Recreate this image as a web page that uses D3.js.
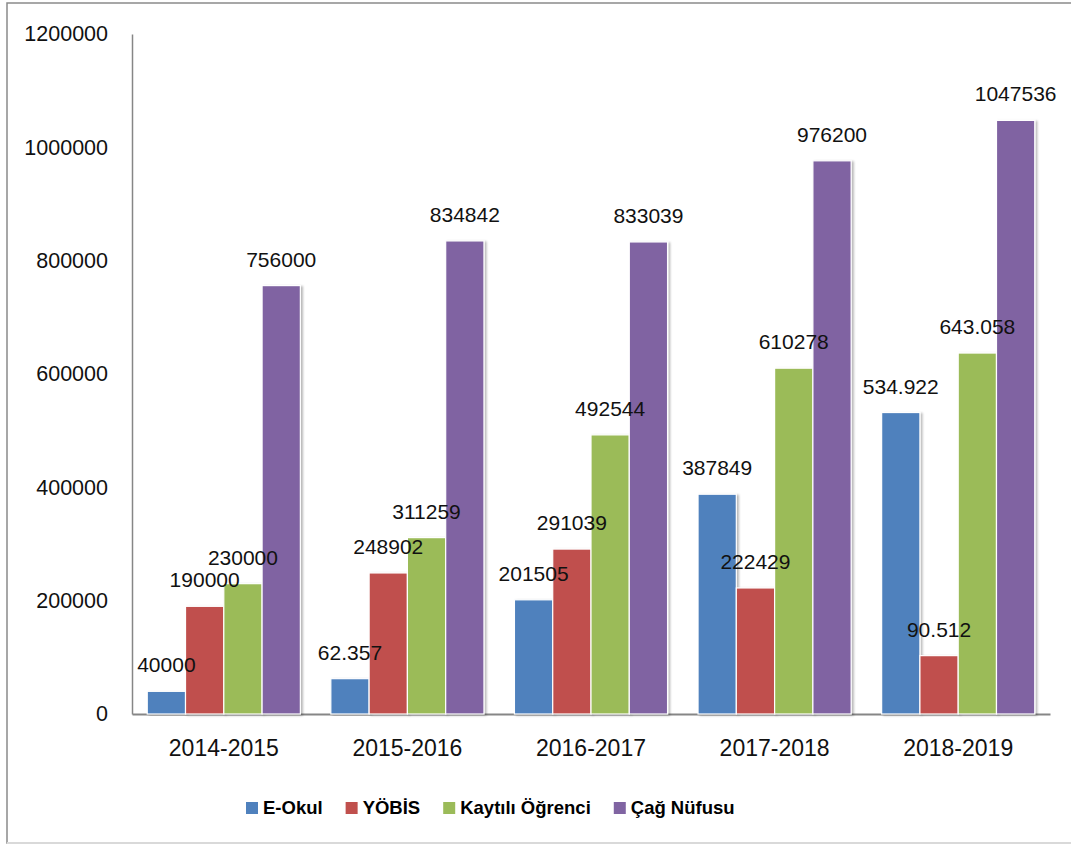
<!DOCTYPE html>
<html>
<head>
<meta charset="utf-8">
<script src="https://cdn.jsdelivr.net/npm/d3@7"></script>
<style>
  html, body { margin: 0; padding: 0; background: #fff; }
  svg { display: block; }
</style>
</head>
<body>
<svg id="chart" width="1071" height="845"></svg>
<script>
const categories = ["2014-2015", "2015-2016", "2016-2017", "2017-2018", "2018-2019"];
const seriesNames = ["E-Okul", "YÖBİS", "Kaytılı Öğrenci", "Çağ Nüfusu"];
const eOkul   = [40000, 62357, 201505, 387849, 532000];
const yobis   = [190000, 248902, 291039, 222429, 103000];
const kayitli = [230000, 311259, 492544, 610278, 637000];
const cag     = [756000, 834842, 833039, 976200, 1047536];
const eOkulLabels   = ["40000", "62.357", "201505", "387849", "534.922"];
const yobisLabels   = ["190000", "248902", "291039", "222429", "90.512"];
const kayitliLabels = ["230000", "311259", "492544", "610278", "643.058"];
const cagLabels     = ["756000", "834842", "833039", "976200", "1047536"];
const yTicks = [0, 200000, 400000, 600000, 800000, 1000000, 1200000];
const colors = ["#4F81BD", "#C0504D", "#9BBB59", "#8064A2"];

const seriesValues = [eOkul, yobis, kayitli, cag];
const seriesLabels = [eOkulLabels, yobisLabels, kayitliLabels, cagLabels];

const svg = d3.select("#chart");
const font = "'Liberation Sans', Arial, sans-serif";

// outer frame
svg.append("rect").attr("x", 7).attr("y", 3).attr("width", 1080).attr("height", 840)
  .attr("fill", "none").attr("stroke", "#8a8a8a").attr("stroke-width", 1.5);
svg.append("line").attr("x1", 7).attr("x2", 1071).attr("y1", 843).attr("y2", 843)
  .attr("stroke", "#d9d9d9").attr("stroke-width", 2);

const defs = svg.append("defs");
const f = defs.append("filter").attr("id", "shadow").attr("x", "-20%").attr("y", "-5%").attr("width", "150%").attr("height", "110%");
f.append("feDropShadow").attr("dx", 2).attr("dy", 1).attr("stdDeviation", 1.2)
  .attr("flood-color", "#000").attr("flood-opacity", 0.28);

const plotLeft = 132, plotRight = 1050, plotTop = 34, plotBottom = 714;

const y = d3.scaleLinear().domain([0, 1200000]).range([plotBottom, plotTop]);
const x0 = d3.scaleBand().domain(categories).range([plotLeft, plotRight]).paddingInner(0).paddingOuter(0);
const x1 = d3.scaleBand().domain(seriesNames)
  .range([x0.bandwidth() * 0.083, x0.bandwidth() * 0.917]).padding(0);

// y axis
const yAxis = svg.append("g").attr("transform", `translate(${plotLeft},0)`)
  .call(d3.axisLeft(y).tickValues(yTicks).tickFormat(d3.format("d")).tickSize(0).tickPadding(24));
yAxis.select(".domain").attr("stroke", "#868686").attr("stroke-width", 1.5);
yAxis.selectAll("text").attr("font-family", font).attr("font-size", 21.5).attr("fill", "#111");

// x axis
const xAxis = svg.append("g").attr("transform", `translate(0,${plotBottom})`)
  .call(d3.axisBottom(x0).tickSize(0).tickSizeOuter(0));
xAxis.select(".domain").attr("stroke", "#868686").attr("stroke-width", 2);
xAxis.selectAll("text").attr("font-family", font).attr("font-size", 23).attr("fill", "#111")
  .attr("y", 42).attr("dy", 0);

// bars
const groups = svg.append("g").selectAll("g").data(categories).join("g")
  .attr("transform", d => `translate(${x0(d)},0)`);

groups.selectAll("rect")
  .data((c, i) => seriesNames.map((s, j) => ({ s, j, v: seriesValues[j][i] })))
  .join("rect")
  .attr("x", d => x1(d.s))
  .attr("y", d => y(d.v))
  .attr("width", x1.bandwidth())
  .attr("height", d => y(0) - y(d.v))
  .attr("fill", d => colors[d.j])
  .attr("stroke", "#fff").attr("stroke-width", 1.2)
  .attr("filter", "url(#shadow)");

// data labels (drawn above all bars)
const labelLayer = svg.append("g");
categories.forEach((c, i) => {
  seriesNames.forEach((s, j) => {
    labelLayer.append("text")
      .attr("x", x0(c) + x1(s) + x1.bandwidth() / 2)
      .attr("y", y(seriesValues[j][i]) - 19)
      .attr("text-anchor", "middle")
      .attr("font-family", font).attr("font-size", 21).attr("fill", "#111")
      .text(seriesLabels[j][i]);
  });
});

// legend
const legend = svg.append("g");
let lx = 246;
seriesNames.forEach((s, j) => {
  legend.append("rect").attr("x", lx).attr("y", 802).attr("width", 12).attr("height", 12)
    .attr("fill", colors[j]);
  const t = legend.append("text").attr("x", lx + 17).attr("y", 814)
    .attr("font-family", font).attr("font-size", 18.5).attr("font-weight", "bold").attr("fill", "#000")
    .text(s);
  lx += 17 + t.node().getComputedTextLength() + 23;
});
</script>
</body>
</html>
